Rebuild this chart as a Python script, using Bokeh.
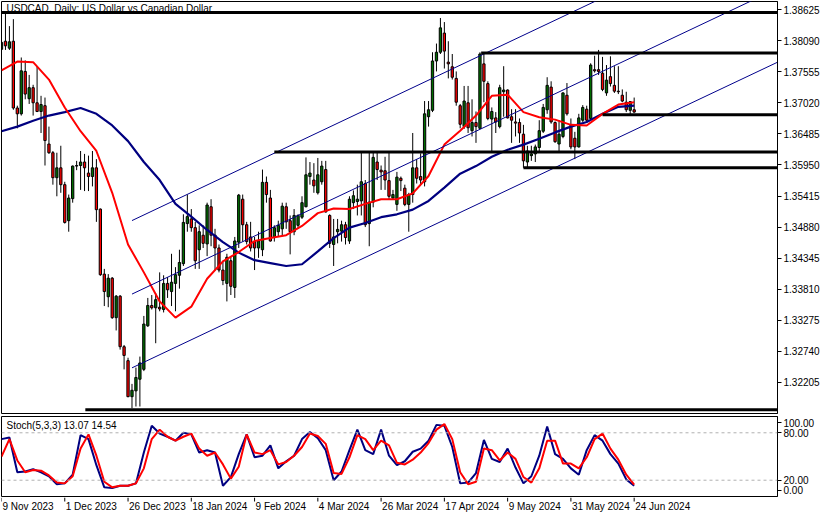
from bokeh.plotting import figure
from bokeh.models import Range1d, FixedTicker, PrintfTickFormatter, Span, Label
from bokeh.layouts import column
from bokeh.embed import file_html
from bokeh.resources import INLINE
from bokeh.core.properties import value

# ---------------- data ----------------
title_text = "USDCAD, Daily:  US Dollar vs Canadian Dollar"
stoch_text = "Stoch(5,3,3) 13.07 14.54"

date_labels = ["9 Nov 2023", "1 Dec 2023", "26 Dec 2023", "18 Jan 2024", "9 Feb 2024",
               "4 Mar 2024", "26 Mar 2024", "17 Apr 2024", "9 May 2024", "31 May 2024",
               "24 Jun 2024"]
date_label_bars = [0, 16, 32, 48, 64, 80, 96, 112, 128, 144, 160]

price_ticks = [1.32205, 1.32740, 1.33275, 1.33810, 1.34345, 1.34880, 1.35415,
               1.35950, 1.36485, 1.37020, 1.37555, 1.38090, 1.38625]

opens = [1.3794, 1.3808, 1.3796, 1.3808, 1.3693, 1.3683, 1.3756, 1.3709, 1.3728, 1.3702,
         1.3687, 1.3697, 1.3631, 1.3616, 1.3573, 1.3590, 1.3561, 1.3499, 1.3537, 1.3593,
         1.3594, 1.3600, 1.3581, 1.3575, 1.3590, 1.3519, 1.3407, 1.3368, 1.3400, 1.3332,
         1.3369, 1.3282, 1.3258, 1.3196, 1.3206, 1.3226, 1.3243, 1.3318, 1.3353, 1.3349,
         1.3350, 1.3346, 1.3391, 1.3377, 1.3391, 1.3405, 1.3425, 1.3494, 1.3502, 1.3487,
         1.3449, 1.3474, 1.3459, 1.3523, 1.3474, 1.3452, 1.3414, 1.3391, 1.3430, 1.3384,
         1.3462, 1.3536, 1.3492, 1.3471, 1.3463, 1.3452, 1.3449, 1.3565, 1.3538, 1.3471,
         1.3480, 1.3485, 1.3523, 1.3499, 1.3480, 1.3491, 1.3505, 1.3523, 1.3575, 1.3569,
         1.3547, 1.3566, 1.3587, 1.3508, 1.3458, 1.3480, 1.3481, 1.3492, 1.3464, 1.3530,
         1.3532, 1.3533, 1.3563, 1.3494, 1.3531, 1.3600, 1.3586, 1.3585, 1.3568, 1.3538,
         1.3527, 1.3572, 1.3555, 1.3527, 1.3544, 1.3590, 1.3575, 1.3566, 1.3678, 1.3689,
         1.3774, 1.3789, 1.3822, 1.3772, 1.3764, 1.3744, 1.3697, 1.3661, 1.3702, 1.3654,
         1.3668, 1.3658, 1.3769, 1.3735, 1.3674, 1.3676, 1.3661, 1.3721, 1.3724, 1.3678,
         1.3669, 1.3668, 1.3648, 1.3600, 1.3611, 1.3614, 1.3625, 1.3653, 1.3690, 1.3729,
         1.3668, 1.3631, 1.3644, 1.3715, 1.3663, 1.3641, 1.3626, 1.3672, 1.3691, 1.3675,
         1.3759, 1.3759, 1.3753, 1.3719, 1.3747, 1.3732, 1.3722, 1.3715, 1.3703, 1.3689,
         1.3690]
highs = [1.3809, 1.3856, 1.3834, 1.3846, 1.3697, 1.3780, 1.3775, 1.3750, 1.3733, 1.3764,
         1.3714, 1.3711, 1.3661, 1.3619, 1.3616, 1.3628, 1.3566, 1.3544, 1.3594, 1.3602,
         1.3619, 1.3614, 1.3611, 1.3619, 1.3605, 1.3520, 1.3416, 1.3407, 1.3402, 1.3371,
         1.3371, 1.3285, 1.3263, 1.3218, 1.3246, 1.3265, 1.3335, 1.3366, 1.3371, 1.3374,
         1.3410, 1.3405, 1.3402, 1.3442, 1.3419, 1.3449, 1.3510, 1.3544, 1.3519, 1.3497,
         1.3491, 1.3491, 1.3530, 1.3536, 1.3485, 1.3458, 1.3430, 1.3442, 1.3438, 1.3471,
         1.3545, 1.3544, 1.3497, 1.3497, 1.3471, 1.3480, 1.3587, 1.3575, 1.3552, 1.3491,
         1.3499, 1.3530, 1.3530, 1.3508, 1.3519, 1.3510, 1.3541, 1.3608, 1.3600, 1.3598,
         1.3607, 1.3602, 1.3602, 1.3510, 1.3502, 1.3502, 1.3499, 1.3497, 1.3541, 1.3551,
         1.3561, 1.3616, 1.3569, 1.3616, 1.3616, 1.3616, 1.3594, 1.3609, 1.3616, 1.3552,
         1.3583, 1.3575, 1.3561, 1.3547, 1.3650, 1.3605, 1.3615, 1.3705, 1.3705, 1.3789,
         1.3804, 1.3848, 1.3841, 1.3808, 1.3786, 1.3756, 1.3700, 1.3731, 1.3731, 1.3708,
         1.3687, 1.3789, 1.3786, 1.3739, 1.3694, 1.3686, 1.3733, 1.3765, 1.3725, 1.3691,
         1.3691, 1.3675, 1.3664, 1.3628, 1.3628, 1.3630, 1.3672, 1.3700, 1.3746, 1.3739,
         1.3670, 1.3672, 1.3720, 1.3736, 1.3675, 1.3652, 1.3683, 1.3698, 1.3697, 1.3770,
         1.3783, 1.3793, 1.3781, 1.3767, 1.3782, 1.3765, 1.3765, 1.3725, 1.3721, 1.3705,
         1.3711]
lows = [1.3793, 1.3793, 1.3793, 1.3690, 1.3658, 1.3680, 1.3708, 1.3700, 1.3680, 1.3686,
        1.3650, 1.3594, 1.3614, 1.3561, 1.3541, 1.3547, 1.3494, 1.3480, 1.3530, 1.3586,
        1.3552, 1.3550, 1.3550, 1.3558, 1.3497, 1.3404, 1.3352, 1.3350, 1.3330, 1.3310,
        1.3277, 1.3243, 1.3195, 1.3176, 1.3179, 1.3179, 1.3240, 1.3316, 1.3346, 1.3288,
        1.3343, 1.3341, 1.3366, 1.3352, 1.3343, 1.3382, 1.3421, 1.3480, 1.3480, 1.3416,
        1.3416, 1.3452, 1.3438, 1.3455, 1.3413, 1.3410, 1.3388, 1.3360, 1.3371, 1.3366,
        1.3452, 1.3463, 1.3458, 1.3446, 1.3414, 1.3435, 1.3438, 1.3530, 1.3463, 1.3463,
        1.3471, 1.3474, 1.3485, 1.3441, 1.3474, 1.3485, 1.3502, 1.3522, 1.3561, 1.3547,
        1.3544, 1.3561, 1.3513, 1.3452, 1.3421, 1.3460, 1.3463, 1.3458, 1.3459, 1.3519,
        1.3508, 1.3508, 1.3488, 1.3455, 1.3522, 1.3569, 1.3552, 1.3552, 1.3536, 1.3536,
        1.3516, 1.3550, 1.3524, 1.3480, 1.3530, 1.3563, 1.3561, 1.3558, 1.3661, 1.3686,
        1.3756, 1.3786, 1.3761, 1.3744, 1.3742, 1.3697, 1.3658, 1.3657, 1.3650, 1.3644,
        1.3633, 1.3657, 1.3703, 1.3672, 1.3616, 1.3650, 1.3658, 1.3678, 1.3675, 1.3633,
        1.3644, 1.3633, 1.3590, 1.3591, 1.3602, 1.3600, 1.3619, 1.3650, 1.3683, 1.3666,
        1.3633, 1.3619, 1.3641, 1.3680, 1.3622, 1.3605, 1.3625, 1.3669, 1.3668, 1.3672,
        1.3754, 1.3750, 1.3722, 1.3714, 1.3730, 1.3719, 1.3717, 1.3703, 1.3686, 1.3681,
        1.3685]
closes = [1.3806, 1.3800, 1.3807, 1.3693, 1.3683, 1.3757, 1.3717, 1.3728, 1.3702, 1.3687,
          1.3699, 1.3637, 1.3616, 1.3573, 1.3590, 1.3561, 1.3496, 1.3538, 1.3593, 1.3594,
          1.3600, 1.3590, 1.3575, 1.3590, 1.3518, 1.3406, 1.3377, 1.3400, 1.3332, 1.3369,
          1.3282, 1.3267, 1.3196, 1.3207, 1.3229, 1.3254, 1.3321, 1.3353, 1.3349, 1.3363,
          1.3347, 1.3391, 1.3380, 1.3393, 1.3406, 1.3427, 1.3496, 1.3506, 1.3487, 1.3430,
          1.3480, 1.3460, 1.3526, 1.3474, 1.3452, 1.3414, 1.3396, 1.3436, 1.3386, 1.3464,
          1.3543, 1.3492, 1.3463, 1.3452, 1.3452, 1.3464, 1.3565, 1.3544, 1.3464, 1.3487,
          1.3491, 1.3524, 1.3497, 1.3480, 1.3508, 1.3508, 1.3530, 1.3578, 1.3581, 1.3559,
          1.3578, 1.3593, 1.3514, 1.3460, 1.3471, 1.3484, 1.3492, 1.3470, 1.3536, 1.3542,
          1.3536, 1.3566, 1.3492, 1.3531, 1.3608, 1.3587, 1.3583, 1.3569, 1.3541, 1.3544,
          1.3574, 1.3568, 1.3527, 1.3544, 1.3590, 1.3572, 1.3569, 1.3683, 1.3690, 1.3774,
          1.3789, 1.3831, 1.3791, 1.3769, 1.3746, 1.3703, 1.3665, 1.3705, 1.3659, 1.3668,
          1.3661, 1.3786, 1.3739, 1.3675, 1.3687, 1.3669, 1.3728, 1.3724, 1.3676, 1.3672,
          1.3667, 1.3650, 1.3602, 1.3619, 1.3614, 1.3626, 1.3654, 1.3694, 1.3732, 1.3669,
          1.3635, 1.3648, 1.3719, 1.3683, 1.3626, 1.3626, 1.3676, 1.3694, 1.3672, 1.3767,
          1.3757, 1.3756, 1.3725, 1.3741, 1.3735, 1.3722, 1.3721, 1.3705, 1.3690, 1.3704,
          1.3686]

# moving averages, read every 4 bars
ma_step = 4
red_ma = [1.3758, 1.3773, 1.3772, 1.3742, 1.3694, 1.3653, 1.3619, 1.3547, 1.3458, 1.3410,
          1.3360, 1.3332, 1.3351, 1.3399, 1.3429, 1.3445, 1.3464, 1.3469, 1.3474, 1.3490,
          1.3512, 1.3520, 1.3519, 1.3528, 1.3536, 1.3536, 1.3546, 1.3576, 1.3630, 1.3654,
          1.3680, 1.3714, 1.3716, 1.3686, 1.3677, 1.3673, 1.3664, 1.3663, 1.3683, 1.3699,
          1.3703]
blue_ma = [1.3653, 1.3661, 1.3671, 1.3680, 1.3686, 1.3693, 1.3683, 1.3663, 1.3636, 1.3600,
           1.3569, 1.3528, 1.3506, 1.3483, 1.3462, 1.3444, 1.3431, 1.3426, 1.3421, 1.3424,
           1.3446, 1.3469, 1.3487, 1.3495, 1.3505, 1.3510, 1.3518, 1.3533, 1.3556, 1.3580,
           1.3593, 1.3609, 1.3621, 1.3630, 1.3640, 1.3651, 1.3661, 1.3669, 1.3683, 1.3695,
           1.3697]

# stochastic, read every 2 bars
stoch_step = 2
stoch_k = [72, 74, 30, 31, 34, 30, 25, 15, 16, 27, 77, 72, 39, 11, 10, 13, 13, 16, 55, 89,
           79, 75, 70, 80, 78, 55, 58, 55, 13, 24, 53, 78, 49, 51, 64, 35, 44, 51, 72, 81,
           73, 58, 20, 31, 58, 84, 58, 53, 84, 51, 39, 44, 56, 60, 70, 90, 89, 62, 16, 17,
           29, 71, 47, 43, 60, 36, 16, 25, 51, 88, 53, 47, 35, 27, 58, 77, 70, 53, 41, 21,
           13.07]
stoch_d = [50, 72, 45, 30, 33, 32, 26, 17, 16, 25, 60, 78, 51, 18, 11, 13, 13, 16, 35, 72,
           84, 75, 70, 75, 79, 60, 51, 55, 40, 22, 37, 78, 55, 53, 58, 40, 43, 51, 62, 79,
           76, 66, 29, 28, 49, 77, 72, 58, 70, 64, 42, 40, 46, 55, 67, 84, 91, 72, 30, 15,
           18, 60, 58, 45, 55, 47, 24, 17, 35, 70, 70, 41, 41, 35, 49, 72, 79, 60, 46, 27,
           14.54]
stoch_levels = [20, 80]
stoch_tick_pos = [7.5, 20, 80, 93]
stoch_tick_labels = ["0.00", "20.00", "80.00", "100.00"]

# drawn objects: horizontal levels (price, first bar) and a rising channel
levels = [1.38575, 1.37879, 1.36815, 1.36174, 1.35902, 1.31735]
level_start_bar = [-2, 121.3, 152, 69, 132, 21.2]
channel_bars = [33, 160]
channel_upper = [1.34992, 1.39086]
channel_mid = [1.33726, 1.37820]
channel_lower = [1.32456, 1.36550]

# ---------------- style ----------------
FONT = "Liberation Sans"
FS = "10px"
GREEN = "#006e00"
RED = "#ff0000"
NAVY = "#000080"
W = 823
RB = 46
X_START, X_END = 0.0, 196.25
xr = Range1d(X_START, X_END)

def base_fig(height, y_range, yaxis=True, top=1, bottom=1):
    f = figure(width=W, height=height, x_range=xr, y_range=y_range,
               x_axis_location=None, y_axis_location="right" if yaxis else None,
               output_backend="svg", toolbar_location=None,
               min_border_left=1, min_border_right=RB,
               min_border_top=top, min_border_bottom=bottom)
    f.grid.visible = False
    f.background_fill_color = "white"
    f.border_fill_color = "white"
    if yaxis:
        ax = f.yaxis[0]
        ax.axis_line_color = "black"
        ax.major_tick_out = 4
        ax.major_tick_in = 0
        ax.major_tick_line_color = "black"
        ax.minor_tick_line_color = None
        ax.major_label_text_font = FONT
        ax.major_label_text_font_size = FS
        ax.major_label_text_color = "black"
        ax.major_label_standoff = 2
    return f

# ---------------- main price panel ----------------
p1 = base_fig(414, Range1d(1.31670, 1.38764))
p1.outline_line_color = "black"
p1.outline_line_width = 1
p1.yaxis[0].ticker = FixedTicker(ticks=price_ticks)
p1.yaxis[0].formatter = PrintfTickFormatter(format="%.5f")

n = len(opens)
bars = list(range(n))
up = [i for i in bars if closes[i] >= opens[i]]
dn = [i for i in bars if closes[i] < opens[i]]

p1.segment(x0=bars, x1=bars, y0=lows, y1=highs, line_color="black", line_width=1)
p1.vbar(x=up, width=0.58, bottom=[opens[i] for i in up], top=[closes[i] for i in up],
        fill_color=GREEN, line_color="black", line_width=1)
p1.vbar(x=dn, width=0.58, top=[opens[i] for i in dn], bottom=[closes[i] for i in dn],
        fill_color=RED, line_color="black", line_width=1)

ma_x = [i * ma_step for i in range(len(red_ma))]
p1.line(ma_x, blue_ma, line_color=NAVY, line_width=2.2)
p1.line(ma_x, red_ma, line_color=RED, line_width=2)

# channel lines extended to the right edge
def extend(vals):
    slope = (vals[1] - vals[0]) / (channel_bars[1] - channel_bars[0])
    return [vals[0], vals[0] + slope * (X_END + 2 - channel_bars[0])]

for ch in (channel_upper, channel_mid, channel_lower):
    p1.line([channel_bars[0], X_END + 2], extend(ch), line_color="#00008b", line_width=1)

p1.segment(x0=level_start_bar, x1=[X_END + 2] * len(levels), y0=levels, y1=levels,
           line_color="black", line_width=3)

p1.add_layout(Label(x=X_START, y=1.38764, x_offset=5, y_offset=-1, text=title_text,
                    text_baseline="top", text_font=FONT, text_font_size=FS,
                    text_color="black"))

# ---------------- stochastic panel ----------------
p2 = base_fig(83, Range1d(-0.6, 100.6), top=2, bottom=1)
p2.outline_line_color = "black"
p2.yaxis[0].ticker = FixedTicker(ticks=stoch_tick_pos)
p2.yaxis[0].major_label_overrides = {t: s for t, s in zip(stoch_tick_pos, stoch_tick_labels)}
for lv in stoch_levels:
    p2.add_layout(Span(location=lv, dimension="width", line_color="#b0b0b0",
                       line_dash="3 3", line_width=1))
sx = [i * stoch_step for i in range(len(stoch_k))]
p2.line(sx, stoch_k, line_color=NAVY, line_width=2)
p2.line(sx, stoch_d, line_color=RED, line_width=2)
p2.add_layout(Label(x=X_START, y=100.6, x_offset=5, y_offset=-3, text=stoch_text,
                    text_baseline="top", text_font=FONT, text_font_size=FS,
                    text_color="black"))

# ---------------- date axis strip ----------------
p3 = base_fig(17, Range1d(0, 17), yaxis=False, top=0, bottom=0)
p3.outline_line_color = None
p3.segment(x0=date_label_bars, x1=date_label_bars, y0=[17] * len(date_label_bars),
           y1=[13] * len(date_label_bars), line_color="black", line_width=1)
p3.text(x=date_label_bars, y=[13.5] * len(date_label_bars), text=date_labels,
        text_baseline="top", text_align="left", x_offset=1,
        text_font=value(FONT), text_font_size=value(FS), text_color="black")

layout = column(p1, p2, p3, spacing=0)
open("out.html", "w").write(file_html(layout, INLINE))
